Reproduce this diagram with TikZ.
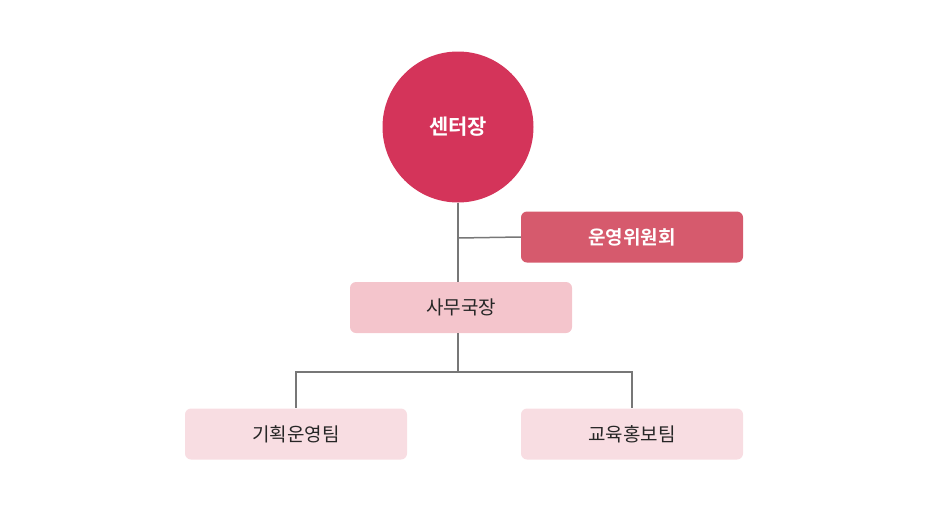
\documentclass[tikz,border=0pt]{standalone}
\usepackage{fontspec}
\setmainfont{Noto Sans CJK KR}[BoldFont={Noto Sans CJK KR Bold}]
\definecolor{cred}{HTML}{D4345A}
\definecolor{cmid}{HTML}{D65A6D}
\definecolor{cpink}{HTML}{F4C5CC}
\definecolor{clight}{HTML}{F8DDE2}
\definecolor{cline}{HTML}{777777}
\begin{document}
\begin{tikzpicture}[x=1pt,y=-1pt,
  box/.style={rounded corners=6pt,minimum width=222pt,minimum height=51pt,inner sep=0pt,font=\fontsize{19}{22}\selectfont},
  conn/.style={draw=cline,line width=1.5pt}]
\useasboundingbox (0,0) rectangle (930,517);
\node[circle,fill=cred,minimum size=151pt,inner sep=0pt,text=white,font=\fontsize{21}{24}\selectfont\bfseries] (head) at (458,127) {센터장};
\node[box,fill=cmid,text=white,font=\fontsize{19}{22}\selectfont\bfseries] (comm) at (632,237) {운영위원회};
\node[box,fill=cpink,text=black!85] (sec) at (461,307.5) {사무국장};
\node[box,fill=clight,text=black!85] (plan) at (296,434) {기획운영팀};
\node[box,fill=clight,text=black!85] (edu) at (632,434) {교육홍보팀};
\coordinate (j) at (458,238);
\coordinate (m) at (458,372);
\draw[conn] (head.south) -- (458,282);
\draw[conn] (j) -- (comm.west);
\draw[conn] (458,333) -- (m);
\draw[conn] (m) -| (plan.north);
\draw[conn] (m) -| (edu.north);
\end{tikzpicture}
\end{document}
